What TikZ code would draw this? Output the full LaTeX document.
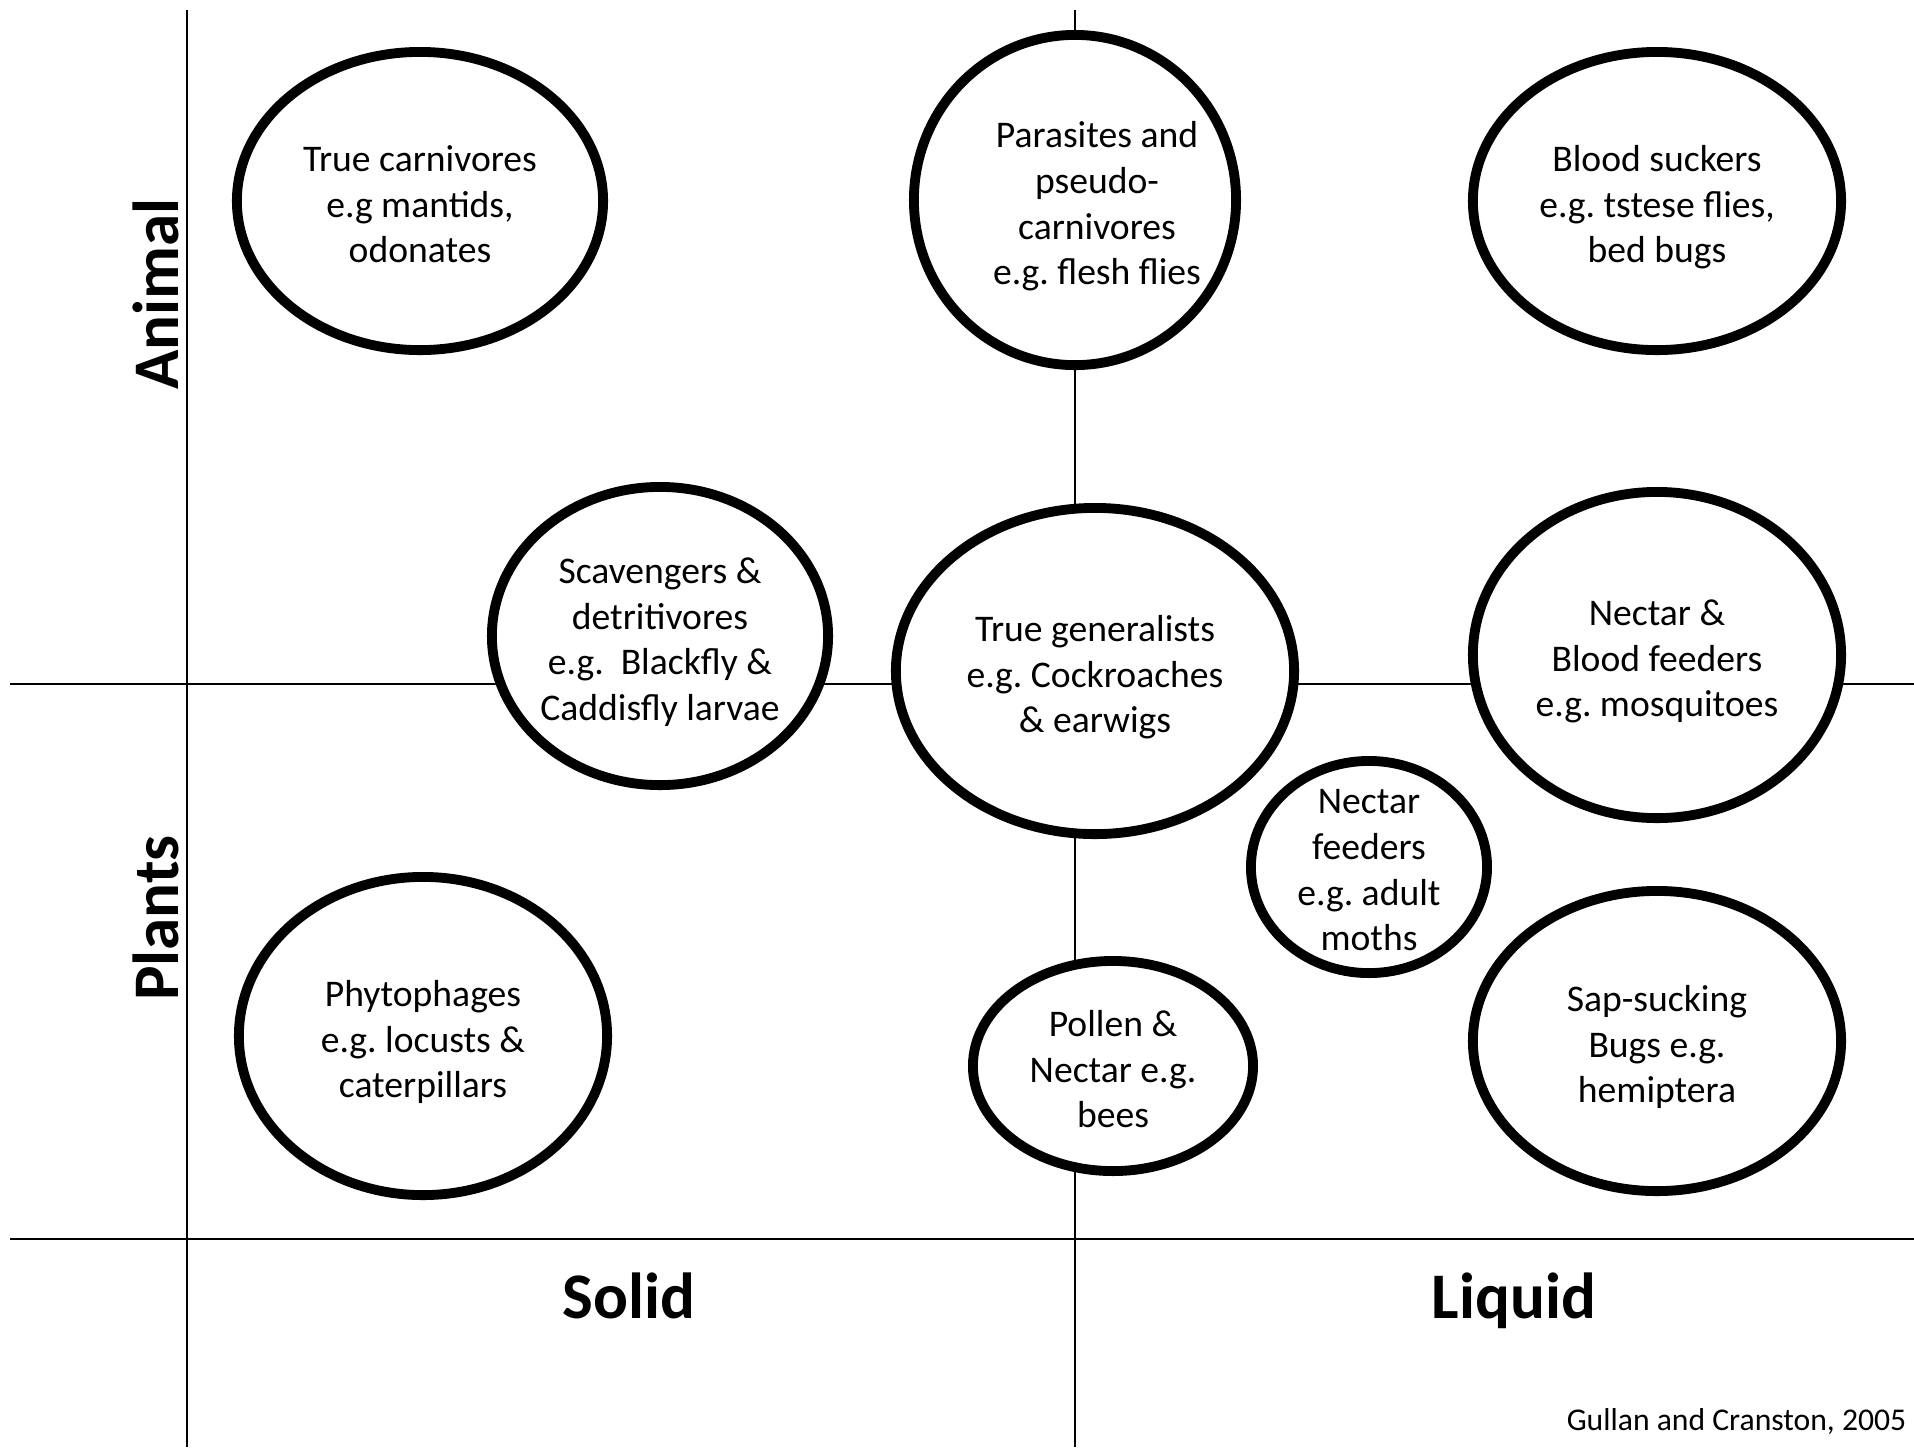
\documentclass[tikz,border=0pt]{standalone}
\usepackage{fontspec}
\setmainfont{Carlito}
\usepackage{tikz}
\usetikzlibrary{shapes.geometric}
\frenchspacing

\begin{document}
\begin{tikzpicture}[
      x=0.01cm, y=-0.01cm,
      texte/.style={align=center, inner sep=0pt, yshift=-2.4pt,
                     font=\fontsize{10.7}{13}\selectfont,
                     execute at end node={\rule[-3pt]{0pt}{3pt}}},
      bulle/.style 2 args={draw, ellipse, line width=2.8pt, fill=white,
                     inner sep=0pt, minimum width=#1, minimum height=#2},
      axe/.style={line width=0.65pt},
      titre/.style={font=\fontsize{18.5}{22}\selectfont\bfseries}]
    \useasboundingbox (0,0) rectangle (1914,1447);
    % axes
    \coordinate (gauche-haut) at (187,10);
    \coordinate (gauche-bas) at (187,1447);
    \coordinate (milieu-haut) at (1075,10);
    \coordinate (milieu-bas) at (1075,1447);
    \coordinate (centre-g) at (10,684);
    \coordinate (centre-d) at (1914,684);
    \coordinate (base-g) at (10,1239);
    \coordinate (base-d) at (1914,1239);
    \draw[axe] (gauche-haut) -- (gauche-bas);
    \draw[axe] (milieu-haut) -- (milieu-bas);
    \draw[axe] (centre-g) -- (centre-d);
    \draw[axe] (base-g) -- (base-d);
    % regimes
    \node[bulle={3.66cm}{2.98cm}, label={[texte]center:{True carnivores\\e.g mantids,\\odonates}}] (carnivores) at (420,201) {};
    \node[bulle={3.22cm}{3.30cm}, label={[texte, xshift=0.22cm]center:{Parasites and\\pseudo-\\carnivores\\e.g. flesh flies}}] (parasites) at (1075,200) {};
    \node[bulle={3.68cm}{2.98cm}, label={[texte]center:{Blood suckers\\e.g. tstese flies,\\bed bugs}}] (suceurs) at (1657,201) {};
    \node[bulle={3.36cm}{2.98cm}, label={[texte]center:{Scavengers \&\\detritivores\\e.g.\ \ Blackfly \&\\Caddisfly larvae}}] (charognards) at (660,636) {};
    \node[bulle={3.98cm}{3.26cm}, label={[texte]center:{True generalists\\e.g. Cockroaches\\\& earwigs}}] (generalistes) at (1095,671) {};
    \node[bulle={3.68cm}{3.26cm}, label={[texte]center:{Nectar \&\\Blood feeders\\e.g. mosquitoes}}] (nectarsang) at (1657,655) {};
    \node[bulle={2.36cm}{2.12cm}, label={[texte]center:{Nectar\\feeders\\e.g. adult\\moths}}] (nectar) at (1369,867) {};
    \node[bulle={3.68cm}{3.18cm}, label={[texte]center:{Phytophages\\e.g. locusts \&\\caterpillars}}] (phytophages) at (423,1036) {};
    \node[bulle={2.80cm}{2.10cm}, label={[texte]center:{Pollen \&\\Nectar e.g.\\bees}}] (pollen) at (1113,1066) {};
    \node[bulle={3.68cm}{3.00cm}, label={[texte]center:{Sap-sucking\\Bugs e.g.\\hemiptera}}] (seve) at (1657,1041) {};
    % titres
    \node[titre, rotate=90] (animal) at (156,294) {Animal};
    \node[titre, rotate=90] (plantes) at (156,918) {Plants};
    \node[titre, anchor=base] (solide) at (629,1318) {Solid};
    \node[titre, anchor=base] (liquide) at (1514,1318) {Liquid};
    \node[anchor=east, inner sep=0pt, font=\fontsize{9}{11}\selectfont] (source) at (1907,1422) {Gullan and Cranston, 2005};
  \end{tikzpicture}
\end{document}
